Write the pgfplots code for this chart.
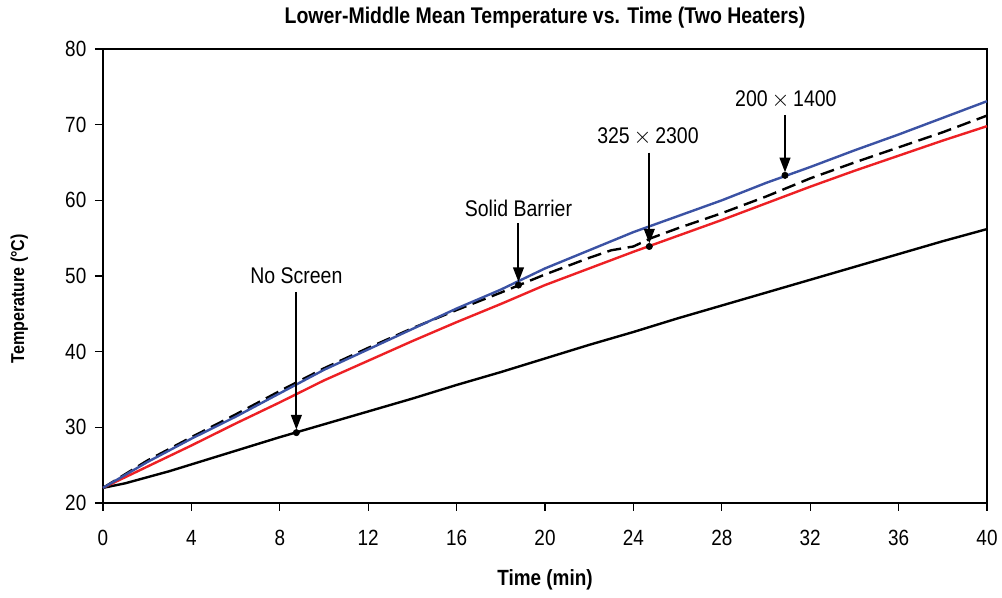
\documentclass[border=0pt]{standalone}
\usepackage{fontspec}
\setmainfont{Liberation Sans}[FakeStretch=0.86]
\usepackage{pgfplots}
\pgfplotsset{compat=1.18}
\usetikzlibrary{arrows.meta}
\definecolor{lineblue}{RGB}{59,82,164}
\definecolor{linered}{RGB}{237,32,36}
\newcommand{\annfont}{\fontsize{17}{19}\selectfont}
\begin{document}
\begin{tikzpicture}
\begin{axis}[
  name=ax,
  scale only axis,
  width=663pt, height=340.5pt,
  xmin=0, xmax=40, ymin=20, ymax=80,
  xtick={0,4,...,40}, ytick={20,30,...,80},
  tick align=outside, tick pos=left,
  major tick length=6pt,
  axis line style={line width=1.5pt},
  every tick/.style={line width=1pt, black},
  /pgf/number format/assume math mode=true,
  ticklabel style={font=\fontsize{16.5}{18}\selectfont},
  xticklabel style={yshift=-11pt},
  yticklabel style={xshift=-3pt},
  title={Lower-Middle Mean Temperature vs. Time (Two Heaters)},
  title style={font=\fontsize{17}{19}\bfseries\selectfont, yshift=6pt},
  xlabel={Time (min)},
  xlabel style={font=\fontsize{16.5}{18}\bfseries\selectfont, yshift=-11pt},
  ylabel={Temperature (°C)},
  ylabel style={font=\fontsize{14}{16}\bfseries\selectfont, at={(ticklabel cs:0.45)}, yshift=21pt},
  clip=false,
]
% No Screen
\addplot[black, line width=1.8pt] coordinates {
(0,22.0)(1,22.6)(2,23.4)(3,24.2)(4,25.1)(6,26.9)(8,28.7)(10,30.4)(12,32.1)(14,33.8)(16,35.6)(18,37.3)(20,39.1)
(22,40.9)(24,42.6)(26,44.4)(28,46.1)(30,47.8)(32,49.5)(34,51.2)(36,52.9)(38,54.6)(40,56.2)};
% 325x2300
\addplot[linered, line width=1.8pt] coordinates {
(0,22.0)(2,24.8)(4,27.6)(6,30.5)(8,33.3)(10,36.2)(12,38.8)(14,41.4)(16,43.9)(18,46.3)(20,48.8)
(22,51.0)(24,53.2)(26,55.3)(28,57.4)(30,59.6)(32,61.8)(34,63.9)(36,65.9)(38,67.9)(40,69.8)};
% Solid Barrier
\addplot[black, line width=1.8pt, dash pattern=on 10.5pt off 5pt] coordinates {
(0,22.0)(2,25.6)(4,28.7)(6,31.7)(8,34.8)(10,37.8)(12,40.5)(14,43.1)(16,45.5)(18,47.8)(20,50.2)
(22,52.4)(23,53.4)(24,53.9)(24.8,55.0)(26,56.3)(28,58.3)(30,60.5)(32,62.9)(34,65.0)(36,67.0)(38,69.0)(40,71.2)};
% 200x1400
\addplot[lineblue, line width=1.8pt] coordinates {
(0,22.0)(2,25.4)(4,28.5)(6,31.4)(8,34.5)(10,37.6)(12,40.3)(14,43.0)(16,45.7)(18,48.2)(20,51.0)
(22,53.4)(24,55.8)(26,57.9)(28,60.0)(30,62.3)(32,64.4)(34,66.6)(36,68.7)(38,70.9)(40,73.1)};
% marker dots
\addplot[only marks, mark=*, mark size=2.4pt, black] coordinates {
(8.75,29.3)(18.8,48.8)(24.72,53.9)(30.86,63.3)};
% arrows
\draw[-{Triangle[length=11pt,width=8pt]}, line width=1.5pt] (axis cs:8.75,47.9) -- (axis cs:8.75,29.7);
\draw[-{Triangle[length=11pt,width=8pt]}, line width=1.5pt] (axis cs:18.8,57.0) -- (axis cs:18.8,49.2);
\draw[-{Triangle[length=11pt,width=8pt]}, line width=1.5pt] (axis cs:24.72,66.3) -- (axis cs:24.72,54.3);
\draw[-{Triangle[length=11pt,width=8pt]}, line width=1.5pt] (axis cs:30.86,71.3) -- (axis cs:30.86,63.7);
% labels
\node[font=\annfont] at (axis cs:8.75,50.0) {No Screen};
\node[font=\annfont] at (axis cs:18.8,59.0) {Solid Barrier};
\node[font=\annfont] at (axis cs:24.66,68.4) {325\,\(\times\)\,2300};
\node[font=\annfont] at (axis cs:30.9,73.3) {200\,\(\times\)\,1400};
\end{axis}
\path (ax.south west) ++(-77.25pt,-71.25pt) rectangle ++(751.5pt,448.5pt);
\end{tikzpicture}
\end{document}
